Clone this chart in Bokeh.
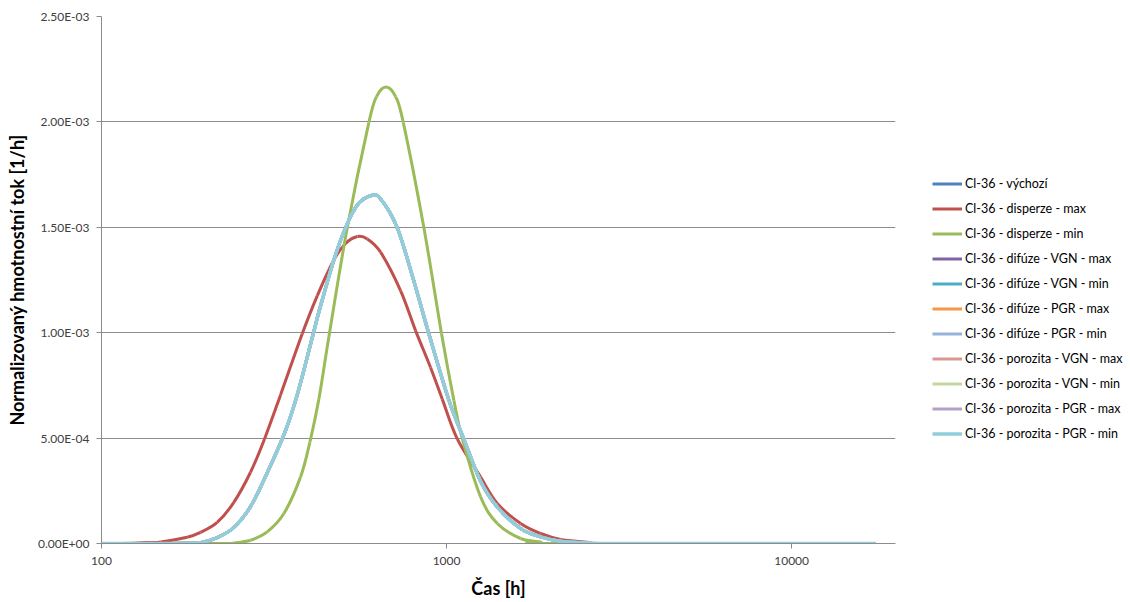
import math
from bokeh.plotting import figure
from bokeh.models import (FixedTicker, CustomJSTickFormatter, PrintfTickFormatter,
                          Legend, LegendItem, Range1d)
from bokeh.embed import file_html
from bokeh.resources import INLINE

# ---------------- data ----------------
series_names = [
    "Cl-36 - výchozí",
    "Cl-36 - disperze - max",
    "Cl-36 - disperze - min",
    "Cl-36 - difúze - VGN - max",
    "Cl-36 - difúze - VGN - min",
    "Cl-36 - difúze - PGR - max",
    "Cl-36 - difúze - PGR - min",
    "Cl-36 - porozita - VGN - max",
    "Cl-36 - porozita - VGN - min",
    "Cl-36 - porozita - PGR - max",
    "Cl-36 - porozita - PGR - min",
]
series_colors = ["#4F81BD", "#C0504D", "#9BBB59", "#8064A2", "#4BACC6", "#F79646",
                 "#95B3D7", "#D99694", "#C3D69B", "#B3A2C7", "#92CDDC"]
# which curve each series follows (the blue group curves coincide)
series_shape = ["base", "dmax", "dmin", "base", "base", "base",
                "base", "base", "base", "base", "base"]

# base curve (výchozí, difúze, porozita – all overlapping)
base_time = [100, 148.3, 177.2, 193.6, 216.4, 241.8, 270.3, 302.1, 340.4, 369.9,
             410.8, 428.5, 471.4, 509.6, 552.0, 605.0, 643.8, 719.5, 803.9, 888.5,
             1016, 1122, 1255, 1403, 1639, 1873, 2140, 2557, 3194, 17500]
base_flux = [0, 0, 2e-6, 4e-6, 2.84e-5, 7.6e-5, 1.75e-4, 3.35e-4, 5.3e-4, 7.1e-4,
             9.95e-4, 1.11e-3, 1.345e-3, 1.498e-3, 1.607e-3, 1.651e-3, 1.635e-3, 1.498e-3, 1.245e-3, 9.95e-4,
             6.79e-4, 4.96e-4, 2.95e-4, 1.73e-4, 7.11e-5, 3.13e-5, 1.09e-5, 2.8e-6, 0, 0]

# disperze - max
dmax_time = [100, 113.5, 138.7, 148.3, 177.2, 193.6, 216.4, 241.8, 270.3, 296.8,
             330.3, 381.7, 421.9, 471.4, 509.6, 552.0, 589.1, 643.8, 735.6, 813.2,
             898.6, 971.7, 1074, 1255, 1403, 1639, 1873, 2140, 2557, 3194, 17500]
dmax_flux = [0, 0, 4.7e-6, 7.6e-6, 3.0e-5, 5.3e-5, 1.0e-4, 1.95e-4, 3.38e-4, 4.96e-4,
             7.05e-4, 9.95e-4, 1.175e-3, 1.345e-3, 1.423e-3, 1.456e-3, 1.445e-3, 1.382e-3, 1.200e-3, 1.01e-3,
             8.35e-4, 6.85e-4, 4.96e-4, 3.15e-4, 1.90e-4, 9.48e-5, 4.74e-5, 1.90e-5, 6.2e-6, 0, 0]

# disperze - min
dmin_time = [100, 216.4, 241.8, 270.3, 302.1, 337.7, 377.5, 401.6, 426.6, 455.9,
             515.5, 595.5, 626.8, 667.7, 711.6, 749.1, 859.6, 967.1, 1050, 1111,
             1255, 1403, 1639, 1873, 2046, 17500]
dmin_flux = [0, 0, 2.8e-6, 1.56e-5, 5.5e-5, 1.42e-4, 3.16e-4, 4.8e-4, 6.85e-4, 9.8e-4,
             1.498e-3, 1.998e-3, 2.12e-3, 2.165e-3, 2.12e-3, 1.998e-3, 1.498e-3, 9.95e-4, 6.79e-4, 4.96e-4,
             2.21e-4, 9.48e-5, 2.37e-5, 7.6e-6, 0, 0]

x_ticks = [100, 1000, 10000]
y_ticks = [0, 0.0005, 0.001, 0.0015, 0.002, 0.0025]

shapes = {"base": (base_time, base_flux),
          "dmax": (dmax_time, dmax_flux),
          "dmin": (dmin_time, dmin_flux)}


def smooth_segments(ts, vs):
    """Excel-style smoothed line: cubic Bezier segments through the read points
    (control points taken in log-time space, as the axis is logarithmic)."""
    lx = [math.log10(t) for t in ts]
    n = len(lx)
    seg = dict(x0=[], y0=[], x1=[], y1=[], cx0=[], cy0=[], cx1=[], cy1=[])
    for i in range(n - 1):
        ip = max(i - 1, 0)
        inn = min(i + 2, n - 1)
        c0x = lx[i] + (lx[i + 1] - lx[ip]) / 6.0
        c0y = vs[i] + (vs[i + 1] - vs[ip]) / 6.0
        c1x = lx[i + 1] - (lx[inn] - lx[i]) / 6.0
        c1y = vs[i + 1] - (vs[inn] - vs[i]) / 6.0
        seg["x0"].append(ts[i]); seg["y0"].append(vs[i])
        seg["x1"].append(ts[i + 1]); seg["y1"].append(vs[i + 1])
        seg["cx0"].append(10 ** c0x); seg["cy0"].append(max(c0y, 0.0))
        seg["cx1"].append(10 ** c1x); seg["cy1"].append(max(c1y, 0.0))
    return seg


# ---------------- figure ----------------
FONT = "Lato"
p = figure(frame_width=794, frame_height=527, x_axis_type="log",
           x_range=Range1d(100, 20000), y_range=Range1d(0, 0.0025),
           output_backend="svg", toolbar_location=None,
           min_border_left=101, min_border_right=0,
           min_border_top=16, min_border_bottom=59)
p.outline_line_color = None
p.background_fill_color = "white"
p.border_fill_color = "white"

p.xgrid.grid_line_color = None
p.ygrid.grid_line_color = "#8C8C8C"
p.ygrid.grid_line_width = 1
p.ygrid.ticker = FixedTicker(ticks=y_ticks)

p.xaxis.ticker = FixedTicker(ticks=x_ticks, minor_ticks=[])
p.xaxis.formatter = PrintfTickFormatter(format="%d")
p.yaxis.ticker = FixedTicker(ticks=y_ticks, minor_ticks=[])
p.yaxis.formatter = CustomJSTickFormatter(code="""
    const s = tick.toExponential(2);
    const parts = s.split('e');
    const n = parseInt(parts[1]);
    const a = Math.abs(n);
    return parts[0] + 'E' + (n < 0 ? '-' : '+') + (a < 10 ? '0' : '') + a;
""")

for ax in (p.xaxis[0], p.yaxis[0]):
    ax.axis_line_color = "#8C8C8C"
    ax.axis_line_width = 1
    ax.major_tick_line_color = "#8C8C8C"
    ax.major_tick_out = 5
    ax.major_tick_in = 0
    ax.minor_tick_line_color = None
    ax.major_label_text_font = FONT
    ax.major_label_text_font_size = "12px"
    ax.major_label_text_color = "#404040"
    ax.axis_label_text_font = FONT
    ax.axis_label_text_font_style = "bold"
    ax.axis_label_text_font_size = "18px"
    ax.axis_label_text_color = "#000000"

p.xaxis.axis_label = "Čas [h]"
p.xaxis.major_label_standoff = 8
p.xaxis.axis_label_standoff = 9
p.yaxis.axis_label = "Normalizovaný hmotnostní tok [1/h]"
p.yaxis.major_label_standoff = 7
p.yaxis.axis_label_standoff = 7

items = []
for k, (name, color, shape) in enumerate(zip(series_names, series_colors, series_shape)):
    t, v = shapes[shape]
    seg = smooth_segments(t, v)
    width = 3.5 if k == len(series_names) - 1 else 3
    r = p.bezier(x0=seg["x0"], y0=seg["y0"], x1=seg["x1"], y1=seg["y1"],
                 cx0=seg["cx0"], cy0=seg["cy0"], cx1=seg["cx1"], cy1=seg["cy1"],
                 line_color=color, line_width=width)
    items.append(LegendItem(label=name, renderers=[r]))

legend = Legend(items=items, location=(37, 102), orientation="vertical",
                glyph_width=30, glyph_height=15, label_height=15, spacing=10,
                padding=0, margin=22, label_standoff=3,
                border_line_color=None, background_fill_alpha=0,
                label_text_font=FONT, label_text_font_size="12.5px",
                label_text_color="#000000")
p.add_layout(legend, "right")

open("out.html", "w").write(file_html(p, INLINE))
